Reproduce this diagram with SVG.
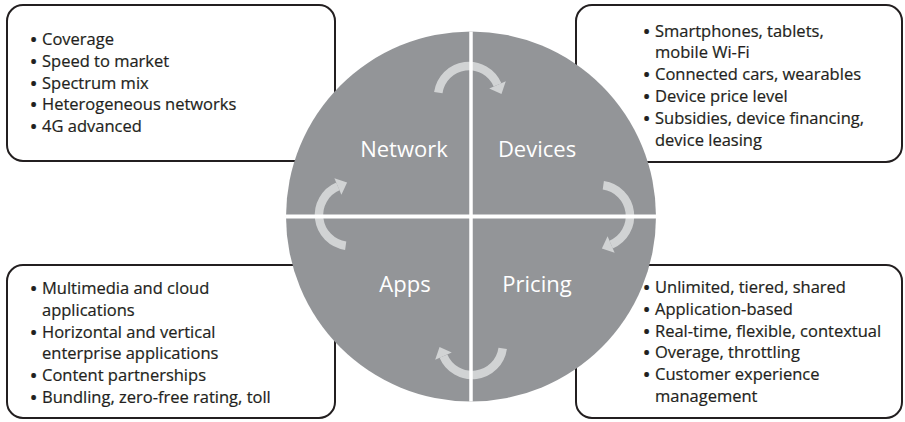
<svg xmlns="http://www.w3.org/2000/svg" width="905" height="422" viewBox="0 0 905 422">
  <style>
    .box { fill: #ffffff; stroke: #231f20; stroke-width: 2; }
    .item { font-family: "Open Sans", "Noto Sans", "DejaVu Sans", sans-serif; font-size: 16.5px; fill: #231f20; stroke: #231f20; stroke-width: 0.2px; }
    .dot { font-weight: 700; }
    .label { font-family: "Open Sans", "Noto Sans", "DejaVu Sans", sans-serif; font-size: 22px; fill: #ffffff; text-anchor: middle; }
    .disc { fill: #939598; }
    .arc { fill: none; stroke: #d1d3d4; stroke-width: 8.5; }
    .head { fill: #d1d3d4; }
    .divider { stroke: #ffffff; stroke-width: 4; }
  </style>
  <defs>
    <!-- curved clockwise arrow, drawn around its own centre -->
    <g id="cycle-arrow">
      <path class="arc" d="M-30.70,-4.31 A31,31 0 0 1 28.54,-12.11"/>
      <polygon class="head" points="36.82,-15.63 20.26,-8.59 32.45,-2.90"/>
    </g>
  </defs>

  <!-- detail boxes -->
  <g id="network-box">
    <rect class="box" x="7" y="5" width="328" height="156" rx="16"/>
    <text class="item">
      <tspan class="dot" x="30.5" y="45">•</tspan><tspan x="42" y="45">Coverage</tspan>
      <tspan class="dot" x="30.5" y="66.8">•</tspan><tspan x="42" y="66.8">Speed to market</tspan>
      <tspan class="dot" x="30.5" y="88.6">•</tspan><tspan x="42" y="88.6">Spectrum mix</tspan>
      <tspan class="dot" x="30.5" y="110.4">•</tspan><tspan x="42" y="110.4">Heterogeneous networks</tspan>
      <tspan class="dot" x="30.5" y="132.2">•</tspan><tspan x="42" y="132.2">4G advanced</tspan>
    </text>
  </g>

  <g id="devices-box">
    <rect class="box" x="576" y="5" width="326" height="157" rx="16"/>
    <text class="item">
      <tspan class="dot" x="643.5" y="36.5">•</tspan><tspan x="655" y="36.5">Smartphones, tablets,</tspan>
      <tspan x="655" y="58.3">mobile Wi-Fi</tspan>
      <tspan class="dot" x="643.5" y="80.1">•</tspan><tspan x="655" y="80.1">Connected cars, wearables</tspan>
      <tspan class="dot" x="643.5" y="101.9">•</tspan><tspan x="655" y="101.9">Device price level</tspan>
      <tspan class="dot" x="643.5" y="123.7">•</tspan><tspan x="655" y="123.7">Subsidies, device financing,</tspan>
      <tspan x="655" y="145.5">device leasing</tspan>
    </text>
  </g>

  <g id="apps-box">
    <rect class="box" x="7" y="265" width="328" height="153" rx="16"/>
    <text class="item">
      <tspan class="dot" x="30.5" y="294">•</tspan><tspan x="42" y="294">Multimedia and cloud</tspan>
      <tspan x="42" y="315.8">applications</tspan>
      <tspan class="dot" x="30.5" y="337.6">•</tspan><tspan x="42" y="337.6">Horizontal and vertical</tspan>
      <tspan x="42" y="359.4">enterprise applications</tspan>
      <tspan class="dot" x="30.5" y="381.2">•</tspan><tspan x="42" y="381.2">Content partnerships</tspan>
      <tspan class="dot" x="30.5" y="403">•</tspan><tspan x="42" y="403">Bundling, zero-free rating, toll</tspan>
    </text>
  </g>

  <g id="pricing-box">
    <rect class="box" x="576" y="265" width="326" height="153" rx="16"/>
    <text class="item">
      <tspan class="dot" x="643.5" y="293">•</tspan><tspan x="655" y="293">Unlimited, tiered, shared</tspan>
      <tspan class="dot" x="643.5" y="314.8">•</tspan><tspan x="655" y="314.8">Application-based</tspan>
      <tspan class="dot" x="643.5" y="336.6">•</tspan><tspan x="655" y="336.6">Real-time, flexible, contextual</tspan>
      <tspan class="dot" x="643.5" y="358.4">•</tspan><tspan x="655" y="358.4">Overage, throttling</tspan>
      <tspan class="dot" x="643.5" y="380.2">•</tspan><tspan x="655" y="380.2">Customer experience</tspan>
      <tspan x="655" y="402">management</tspan>
    </text>
  </g>

  <!-- central disc -->
  <g id="cycle-disc">
    <circle class="disc" cx="471" cy="216.5" r="185"/>
  </g>

  <!-- cycle arrows between quadrants -->
  <g id="connectors">
    <use href="#cycle-arrow" transform="translate(469,97)"/>
    <use href="#cycle-arrow" transform="translate(599,216) rotate(90)"/>
    <use href="#cycle-arrow" transform="translate(472,344) rotate(180)"/>
    <use href="#cycle-arrow" transform="translate(350,215) rotate(270)"/>
  </g>

  <!-- quadrant dividers -->
  <g id="dividers">
    <line class="divider" x1="471" y1="31.5" x2="471" y2="401.5" style="stroke-width:3.5"/>
    <line class="divider" x1="286" y1="216.5" x2="656" y2="216.5"/>
  </g>

  <!-- quadrant labels -->
  <g id="network"><text class="label" x="404" y="157">Network</text></g>
  <g id="devices"><text class="label" x="537" y="157">Devices</text></g>
  <g id="apps"><text class="label" x="405" y="292">Apps</text></g>
  <g id="pricing"><text class="label" x="537" y="292">Pricing</text></g>
</svg>
